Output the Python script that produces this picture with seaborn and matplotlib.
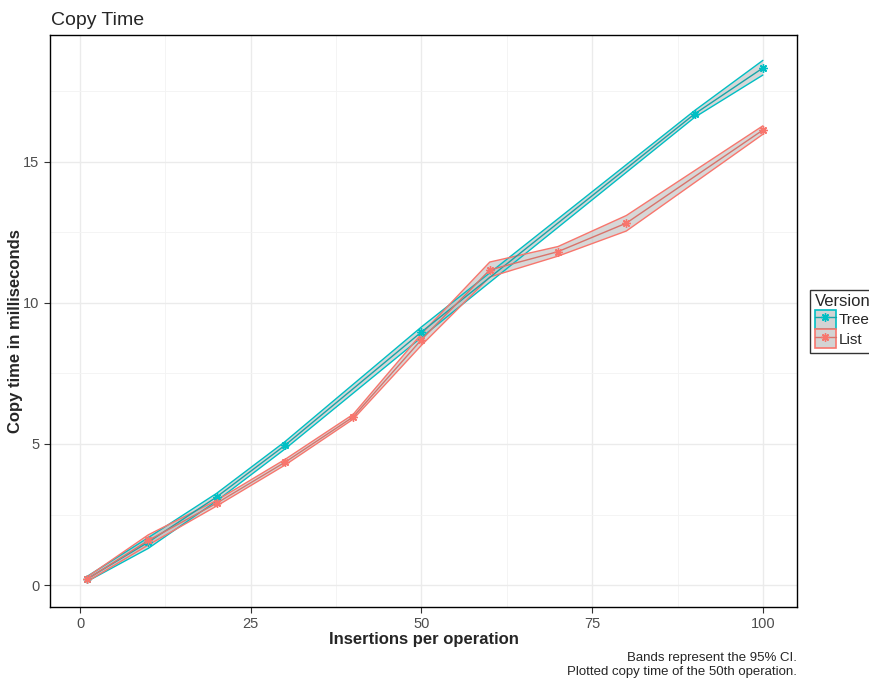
import numpy as np
import pandas as pd
import matplotlib
matplotlib.use("Agg")
import matplotlib.pyplot as plt
import seaborn as sns
from matplotlib.patches import Patch
from matplotlib.lines import Line2D

# Data
tree_x = [1, 10, 20, 30, 50, 90, 100]
tree_mean = [0.21, 1.52, 3.12, 4.95, 8.97, 16.70, 18.33]
tree_lo = [0.12, 1.30, 2.98, 4.82, 8.78, 16.58, 18.08]
tree_hi = [0.30, 1.68, 3.25, 5.08, 9.15, 16.82, 18.60]

list_x = [1, 10, 20, 30, 40, 50, 60, 70, 80, 100]
list_mean = [0.20, 1.58, 2.90, 4.35, 5.96, 8.70, 11.17, 11.82, 12.83, 16.13]
list_lo = [0.12, 1.42, 2.80, 4.25, 5.88, 8.50, 10.92, 11.66, 12.55, 15.98]
list_hi = [0.28, 1.78, 3.00, 4.45, 6.05, 8.90, 11.45, 12.00, 13.10, 16.28]

versions = ["Tree", "List"]
colors = {"Tree": "#00BFC4", "List": "#F8766D"}
line_colors = {"Tree": "#17A5A8", "List": "#D9736B"}

df = pd.concat([
    pd.DataFrame({"x": tree_x, "y": tree_mean, "lo": tree_lo, "hi": tree_hi, "Version": "Tree"}),
    pd.DataFrame({"x": list_x, "y": list_mean, "lo": list_lo, "hi": list_hi, "Version": "List"}),
])

sns.set_theme(style="white")
plt.rcParams["font.family"] = ["Liberation Sans", "DejaVu Sans"]

fig = plt.figure(figsize=(8.7, 6.79), dpi=100)
ax = fig.add_axes([0.0575, 0.106, 0.916 - 0.0575, 0.9485 - 0.106])

for v in versions:
    d = df[df.Version == v]
    ax.fill_between(d.x, d.lo, d.hi, facecolor="#BDBDBD", alpha=0.6,
                    edgecolor="none", linewidth=0, zorder=2)
    sns.lineplot(x=d.x.values, y=d.lo.values, color=colors[v], linewidth=1.0,
                 ax=ax, legend=False, zorder=2.5)
    sns.lineplot(x=d.x.values, y=d.hi.values, color=colors[v], linewidth=1.0,
                 ax=ax, legend=False, zorder=2.5)

for v in versions:
    d = df[df.Version == v]
    sns.lineplot(data=d, x="x", y="y", color=line_colors[v],
                 marker=(8, 2, 0), markersize=6, markeredgewidth=1.0,
                 markeredgecolor=colors[v], markerfacecolor=colors[v],
                 linewidth=1.0, ax=ax, legend=False, zorder=3)

ax.set_xlim(-4.39, 104.98)
ax.set_ylim(-0.78, 19.5)
ax.set_xticks([0, 25, 50, 75, 100])
ax.set_yticks([0, 5, 10, 15])
ax.set_xticks([12.5, 37.5, 62.5, 87.5], minor=True)
ax.set_yticks([2.5, 7.5, 12.5, 17.5], minor=True)
ax.grid(True, which="major", color="#EBEBEB", linewidth=1.0, zorder=0)
ax.grid(True, which="minor", color="#F3F3F3", linewidth=0.6, zorder=0)
ax.set_axisbelow(True)
for s in ax.spines.values():
    s.set_color("black")
    s.set_linewidth(1.0)
ax.tick_params(axis="both", which="major", direction="out", length=4,
               width=0.8, color="#333333", labelsize=10.5, labelcolor="#4D4D4D",
               bottom=True, left=True)
ax.tick_params(which="minor", length=0)

ax.set_xlabel("Insertions per operation", fontsize=12, fontweight="bold")
ax.set_ylabel("Copy time in milliseconds", fontsize=12, fontweight="bold")
ax.xaxis.set_label_coords(0.5, -0.043)
ax.yaxis.set_label_coords(-0.036, 0.482)
fig.text(0.0585, 0.958, "Copy Time", fontsize=14, ha="left", va="bottom")
fig.text(0.916, 0.040, "Bands represent the 95% CI.\nPlotted copy time of the 50th operation.",
         fontsize=9.5, ha="right", va="top", linespacing=1.25)

handles = []
for v in versions:
    p = Patch(facecolor="#D3D3D3", edgecolor=colors[v], linewidth=1.2)
    l = Line2D([], [], color=line_colors[v], marker=(8, 2, 0), markersize=6,
               markeredgecolor=colors[v], linewidth=1.0)
    handles.append((p, l))
leg = fig.legend(handles, versions, title="Version", loc="center left",
                 bbox_to_anchor=(0.931, 0.527), frameon=True, fontsize=11,
                 title_fontsize=12, handlelength=1.4, handleheight=1.5,
                 borderpad=0.3, labelspacing=0.05, handletextpad=0.2,
                 borderaxespad=0, alignment="left")
leg.get_frame().set_edgecolor("black")
leg.get_frame().set_linewidth(1.0)
leg.get_frame().set_boxstyle("square", pad=0)

fig.savefig("out.png", dpi=100)
